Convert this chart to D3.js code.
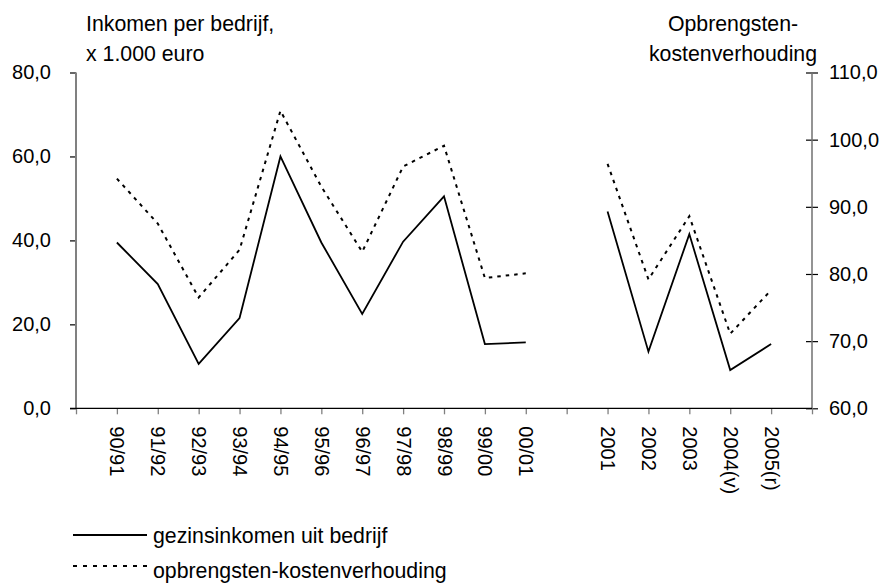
<!DOCTYPE html>
<html>
<head>
<meta charset="utf-8">
<script src="https://cdn.jsdelivr.net/npm/d3@7"></script>
<style>
  body { margin: 0; background: #fff; }
  text { font-family: Arial, "Liberation Sans", sans-serif; fill: #000; }
</style>
</head>
<body>
<div id="chart"></div>
<script>
// categories, blanks mark the empty slots at the ends and the gap
const categories = ["", "90/91", "91/92", "92/93", "93/94", "94/95", "95/96", "96/97", "97/98", "98/99", "99/00", "00/01",
  "", "2001", "2002", "2003", "2004(v)", "2005(r)", ""];
const inkomen = [null, 39.5, 29.6, 10.6, 21.5, 60.0, 39.5, 22.5, 39.7, 50.5, 15.3, 15.7,
  null, 46.9, 13.5, 41.5, 9.1, 15.3, null];
const verhouding = [null, 94.2, 87.5, 76.5, 83.6, 104.3, 93.0, 83.3, 96.0, 99.1, 79.4, 80.1,
  null, 96.4, 79.2, 88.6, 71.1, 77.6, null];
const leftTicks = [0, 20, 40, 60, 80];
const rightTicks = [60, 70, 80, 90, 100, 110];
const legendLabels = ["gezinsinkomen uit bedrijf", "opbrengsten-kostenverhouding"];

const width = 883, height = 584;
const plot = { left: 76, right: 812, top: 72.5, bottom: 408.3 };
const fs = 20;      // tick labels
const fsTitle = 21.3;

const nl = d3.formatLocale({ decimal: ",", thousands: ".", grouping: [3], currency: ["€", ""] });
const fmt = nl.format(".1f");

const svg = d3.select("#chart").append("svg")
  .attr("width", width)
  .attr("height", height);

const x = d3.scalePoint()
  .domain(d3.range(categories.length))
  .range([plot.left, plot.right]);

const yL = d3.scaleLinear().domain([0, 80]).range([plot.bottom, plot.top]);
const yR = d3.scaleLinear().domain([60, 110]).range([plot.bottom, plot.top]);

// left axis
const gl = svg.append("g")
  .attr("transform", "translate(" + plot.left + ",0)")
  .call(d3.axisLeft(yL).tickValues(leftTicks).tickFormat(fmt).tickSize(6).tickPadding(19));
gl.select(".domain").remove();
gl.append("line").attr("y1", plot.top).attr("y2", plot.bottom)
  .attr("stroke", "#808080").attr("stroke-width", 2);
gl.selectAll(".tick line").attr("stroke", "#000").attr("stroke-width", 1.2);
gl.selectAll(".tick text").style("font-size", fs + "px").attr("fill", "#000");

// right axis, ticks cross the line
const gr = svg.append("g")
  .attr("transform", "translate(" + plot.right + ",0)")
  .call(d3.axisRight(yR).tickValues(rightTicks).tickFormat(fmt).tickSize(6).tickPadding(11));
gr.select(".domain").remove();
gr.append("line").attr("y1", plot.top).attr("y2", plot.bottom)
  .attr("stroke", "#707070").attr("stroke-width", 1.5);
gr.selectAll(".tick line").attr("x1", -6).attr("stroke", "#000").attr("stroke-width", 1.2);
gr.selectAll(".tick text").style("font-size", fs + "px").attr("fill", "#000");

// x axis
const gx = svg.append("g")
  .attr("transform", "translate(0," + plot.bottom + ")")
  .call(d3.axisBottom(x).tickFormat(i => categories[i]).tickSize(6).tickSizeOuter(0));
gx.select(".domain").remove();
gx.append("line").attr("x1", plot.left - 6).attr("x2", plot.right)
  .attr("stroke", "#000").attr("stroke-width", 1.3);
gx.selectAll(".tick line").attr("stroke", "#808080").attr("stroke-width", 1.3);
gx.selectAll(".tick text")
  .style("font-size", fs + "px")
  .attr("fill", "#000")
  .attr("text-anchor", "start")
  .attr("transform", "rotate(90)")
  .attr("x", 18)
  .attr("y", 0)
  .attr("dy", "0.35em");

// lines
const lineL = d3.line()
  .defined(d => d != null)
  .x((d, i) => x(i))
  .y(d => yL(d));
const lineR = d3.line()
  .defined(d => d != null)
  .x((d, i) => x(i))
  .y(d => yR(d));

svg.append("path")
  .attr("d", lineR(verhouding))
  .attr("fill", "none")
  .attr("stroke", "#000")
  .attr("stroke-width", 2)
  .attr("stroke-dasharray", "3.5,5");

svg.append("path")
  .attr("d", lineL(inkomen))
  .attr("fill", "none")
  .attr("stroke", "#000")
  .attr("stroke-width", 1.8)
  .attr("stroke-linejoin", "miter");

// titles
svg.append("text").attr("x", 86).attr("y", 31).style("font-size", fsTitle + "px").text("Inkomen per bedrijf,");
svg.append("text").attr("x", 86).attr("y", 61).style("font-size", fsTitle + "px").text("x 1.000 euro");
svg.append("text").attr("x", 733).attr("y", 31).attr("text-anchor", "middle").style("font-size", fsTitle + "px").text("Opbrengsten-");
svg.append("text").attr("x", 733).attr("y", 61).attr("text-anchor", "middle").style("font-size", fsTitle + "px").text("kostenverhouding");

// legend
const leg = svg.append("g");
const legRows = [{ y: 535, dash: null, ty: 543 }, { y: 566, dash: "4,6", ty: 578 }];
legRows.forEach((r, i) => {
  leg.append("line")
    .attr("x1", 73).attr("x2", 147)
    .attr("y1", r.y).attr("y2", r.y)
    .attr("stroke", "#000")
    .attr("stroke-width", 2)
    .attr("stroke-dasharray", r.dash);
  leg.append("text")
    .attr("x", 153).attr("y", r.ty)
    .style("font-size", fsTitle + "px")
    .text(legendLabels[i]);
});
</script>
</body>
</html>
